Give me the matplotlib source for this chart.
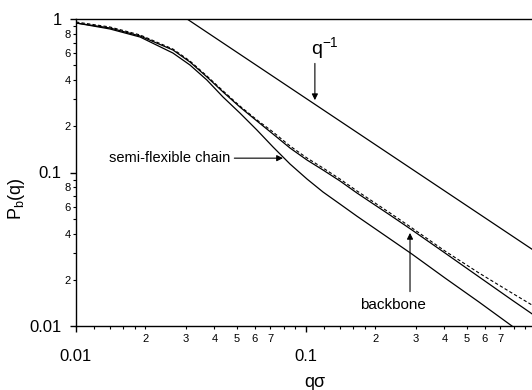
import math
import matplotlib
matplotlib.use("Agg")
import matplotlib.pyplot as plt
from matplotlib.ticker import FixedLocator, FuncFormatter

plt.rcParams['font.family'] = ['Liberation Sans', 'DejaVu Sans']
plt.rcParams['mathtext.fontset'] = 'custom'
plt.rcParams['mathtext.rm'] = 'Liberation Sans'
plt.rcParams['mathtext.it'] = 'Liberation Sans'

# values
q_vals = [0.01, 0.01405, 0.019, 0.0264, 0.0313, 0.0371, 0.0436, 0.0516, 0.0612, 0.0719,
          0.0852, 0.101, 0.1186, 0.1405, 0.1666, 0.2319, 0.289, 0.402, 0.565, 0.786, 0.961]

p_backbone = [0.942, 0.874, 0.775, 0.628, 0.5245, 0.419, 0.3345, 0.267, 0.2165, 0.178,
              0.1444, 0.1206, 0.1038, 0.0881, 0.0735, 0.0528, 0.0422, 0.0299, 0.0209, 0.01477, 0.0120]

p_chain = [0.942, 0.861, 0.763, 0.600, 0.5015, 0.400, 0.310, 0.244, 0.189, 0.1466,
           0.1136, 0.0907, 0.0746, 0.0623, 0.0519, 0.0369, 0.0294, 0.02055, 0.01433, 0.0100]

p_dashed = [0.956, 0.887, 0.787, 0.637, 0.5325, 0.425, 0.340, 0.271, 0.220, 0.1836,
            0.1488, 0.1243, 0.107, 0.0907, 0.0758, 0.0545, 0.0435, 0.0308, 0.02215, 0.0164, 0.0137]

# q^-1 guide line (end points)
q_guide = [0.0304, 1.0]
p_guide = [1.0, 0.0304]

fig = plt.figure(figsize=(5.32, 3.90), dpi=100)
ax = fig.add_axes([76/532, 64/390, 460/532, 307/390])

ax.plot(q_vals, p_backbone, color='black', lw=0.9)
ax.plot(q_vals[:len(p_chain)], p_chain, color='black', lw=0.9)
ax.plot(q_vals, p_dashed, color='black', lw=0.8, linestyle=(0, (3, 2)))
ax.plot(q_guide, p_guide, color='black', lw=0.9)

ax.set_xscale('log')
ax.set_yscale('log')
ax.set_xlim(0.01, 1.0)
ax.set_ylim(0.01, 1.0)
ax.spines['right'].set_visible(False)
for s in ['left', 'bottom', 'top']:
    ax.spines[s].set_linewidth(1.0)


def mant(v):
    return round(v / 10 ** math.floor(math.log10(v) + 1e-9), 1)


# y ticks
ax.yaxis.set_major_locator(FixedLocator([0.01, 0.1, 1]))
ax.yaxis.set_major_formatter(FuncFormatter(lambda v, p: {0.01: '0.01', 0.1: '0.1', 1.0: '1'}.get(round(v, 3), '')))
ax.yaxis.set_minor_locator(FixedLocator([m * d for d in [0.01, 0.1] for m in range(2, 10)]))
ax.yaxis.set_minor_formatter(FuncFormatter(lambda v, p: str(int(mant(v))) if mant(v) in (2, 4, 6, 8) else ''))

# x ticks
ax.xaxis.set_major_locator(FixedLocator([0.01, 0.1]))
ax.xaxis.set_major_formatter(FuncFormatter(lambda v, p: '0.01' if v < 0.05 else '0.1'))
ax.xaxis.set_minor_locator(FixedLocator([m * d for d in [0.01, 0.1]
                                         for m in [1.2, 1.4, 1.6, 1.8, 2, 3, 4, 5, 6, 7, 8, 9]]))
ax.xaxis.set_minor_formatter(FuncFormatter(lambda v, p: str(int(mant(v))) if mant(v) in (2, 3, 4, 5, 6, 7) else ''))

ax.tick_params(axis='both', which='major', direction='out', length=4.3, width=1.0, labelsize=12)
ax.tick_params(axis='both', which='minor', direction='out', length=2.2, width=0.8, labelsize=8)
ax.tick_params(axis='x', which='major', pad=12)
ax.tick_params(axis='x', which='minor', pad=3.5)
ax.tick_params(axis='y', which='major', pad=6)
ax.tick_params(axis='y', which='minor', pad=1.5)
ax.tick_params(top=False, right=False, which='both')

ax.set_xlabel('qσ', fontsize=13)
ax.xaxis.set_label_coords(0.52, -0.156)
ax.set_ylabel(r'$\mathregular{P_b(q)}$', fontsize=13)
ax.yaxis.set_label_coords(-0.106, 0.414)

arrow = dict(arrowstyle='-|>', lw=0.8, color='black', mutation_scale=9, shrinkA=1, shrinkB=0)

ax.annotate('semi-flexible chain', xy=(0.0794, 0.124), xytext=(0.0468, 0.124),
            ha='right', va='center', fontsize=10.5, arrowprops=arrow)
ax.annotate('', xy=(0.2833, 0.0404), xytext=(0.2833, 0.0164), arrowprops=arrow)
ax.text(0.2392, 0.0137, 'backbone', ha='center', va='center', fontsize=11)
ax.annotate('', xy=(0.1093, 0.296), xytext=(0.1093, 0.5245), arrowprops=arrow)
ax.text(0.1053, 0.647, r'$\mathregular{q^{-1}}$', ha='left', va='center', fontsize=14)

fig.savefig('out.png', dpi=100)
